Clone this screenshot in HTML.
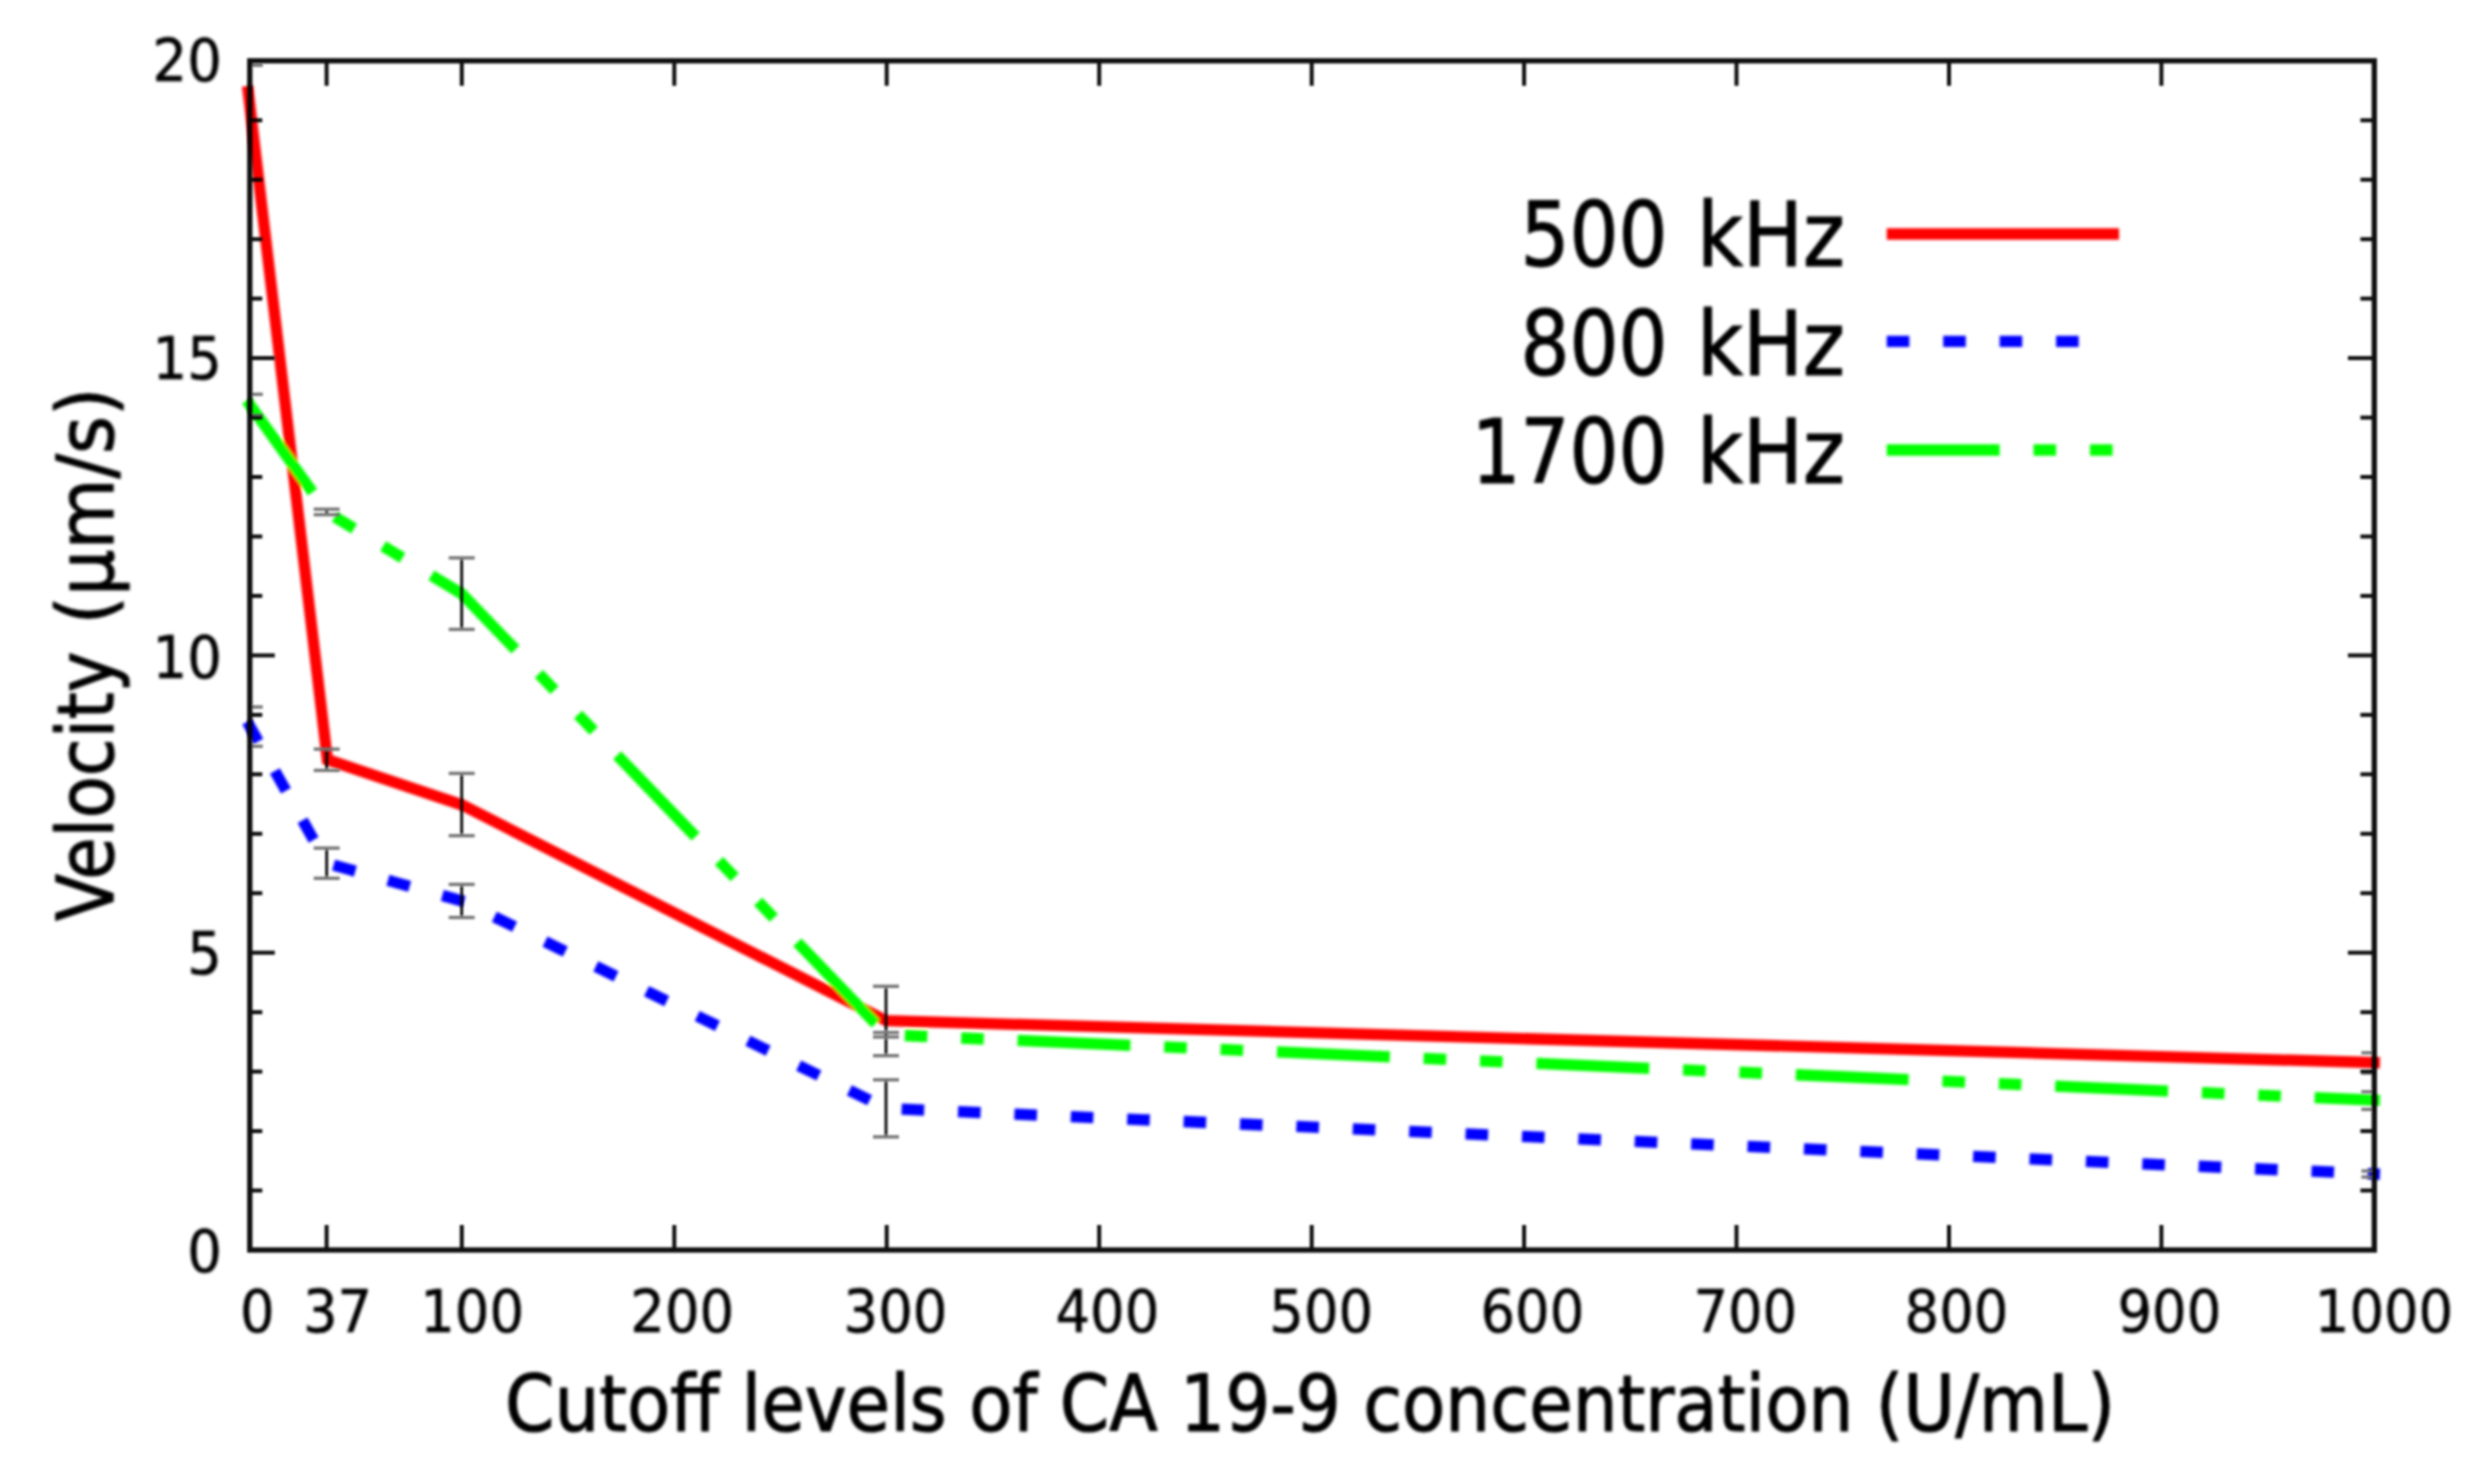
<!DOCTYPE html>
<html lang="en"><head><meta charset="utf-8"><title>Velocity vs CA 19-9 cutoff</title>
<style>html,body{margin:0;padding:0;background:#fff;}body{width:2475px;height:1480px;overflow:hidden;}svg{display:block;}text{font-family:"DejaVu Sans Condensed","DejaVu Sans","Liberation Sans",sans-serif;fill:#000;stroke:#000;stroke-width:1.1px;stroke-linejoin:round;}</style></head><body>
<svg width="2475" height="1480" viewBox="0 0 2475 1480">
<defs><filter id="b" x="-2%" y="-2%" width="104%" height="104%"><feGaussianBlur stdDeviation="1.6"/></filter><filter id="c" x="-2%" y="-2%" width="104%" height="104%"><feGaussianBlur stdDeviation="0.9"/></filter></defs>
<rect width="2475" height="1480" fill="#fff"/>
<g filter="url(#b)">
<g fill="none" stroke-width="11.29" stroke-linejoin="miter" stroke-linecap="square">
<polyline points="248.2,91.6 327.4,759.7 461.7,804.8 886.3,1020.7 2374.3,1062.6" stroke="#ff0000"/>
<polyline points="250.0,726.7 326.7,863.2 461.7,900.9 886.3,1108.4 2374.3,1174.0" stroke="#0000ff" stroke-dasharray="11.29 45.16"/>
<polyline points="250.0,405.0 326.7,512.0 461.7,593.7 886.3,1034.7 2374.3,1100.2" stroke="#00ff00" stroke-dasharray="101.61 45.16 11.29 45.16 11.29 45.16"/>
<line x1="1892.4" y1="234" x2="2113.4" y2="234" stroke="#ff0000"/>
<line x1="1892.4" y1="341.4" x2="2113.4" y2="341.4" stroke="#0000ff" stroke-dasharray="11.29 45.16"/>
<line x1="1892.4" y1="450" x2="2113.4" y2="450" stroke="#00ff00" stroke-dasharray="101.61 45.16 11.29 45.16 11.29 45.16"/>
</g>
</g><g filter="url(#c)">
<g stroke="#000" fill="none" opacity="0.95">
<line x1="326.7" y1="749.1" x2="326.7" y2="770.4" stroke-width="2.9"/>
<line x1="313.7" y1="749.1" x2="339.7" y2="749.1" stroke-width="3.4" stroke="#727272"/>
<line x1="313.7" y1="770.4" x2="339.7" y2="770.4" stroke-width="3.4" stroke="#727272"/>
<line x1="326.7" y1="509.2" x2="326.7" y2="514.7" stroke-width="2.9"/>
<line x1="313.7" y1="509.2" x2="339.7" y2="509.2" stroke-width="3.4" stroke="#727272"/>
<line x1="313.7" y1="514.7" x2="339.7" y2="514.7" stroke-width="3.4" stroke="#727272"/>
<line x1="326.7" y1="848.1" x2="326.7" y2="878.3" stroke-width="2.9"/>
<line x1="313.7" y1="848.1" x2="339.7" y2="848.1" stroke-width="3.4" stroke="#727272"/>
<line x1="313.7" y1="878.3" x2="339.7" y2="878.3" stroke-width="3.4" stroke="#727272"/>
<line x1="461.7" y1="773.4" x2="461.7" y2="835.7" stroke-width="2.9"/>
<line x1="448.7" y1="773.4" x2="474.7" y2="773.4" stroke-width="3.4" stroke="#727272"/>
<line x1="448.7" y1="835.7" x2="474.7" y2="835.7" stroke-width="3.4" stroke="#727272"/>
<line x1="461.7" y1="557.9" x2="461.7" y2="629.4" stroke-width="2.9"/>
<line x1="448.7" y1="557.9" x2="474.7" y2="557.9" stroke-width="3.4" stroke="#727272"/>
<line x1="448.7" y1="629.4" x2="474.7" y2="629.4" stroke-width="3.4" stroke="#727272"/>
<line x1="461.7" y1="884.4" x2="461.7" y2="917.5" stroke-width="2.9"/>
<line x1="448.7" y1="884.4" x2="474.7" y2="884.4" stroke-width="3.4" stroke="#727272"/>
<line x1="448.7" y1="917.5" x2="474.7" y2="917.5" stroke-width="3.4" stroke="#727272"/>
<line x1="886.0" y1="986.3" x2="886.0" y2="1055.7" stroke-width="2.9"/>
<line x1="873.0" y1="986.3" x2="899.0" y2="986.3" stroke-width="3.4" stroke="#727272"/>
<line x1="873.0" y1="1055.7" x2="899.0" y2="1055.7" stroke-width="3.4" stroke="#727272"/>
<line x1="886.0" y1="1032.5" x2="886.0" y2="1037.0" stroke-width="2.9"/>
<line x1="873.0" y1="1032.5" x2="899.0" y2="1032.5" stroke-width="3.4" stroke="#727272"/>
<line x1="873.0" y1="1037.0" x2="899.0" y2="1037.0" stroke-width="3.4" stroke="#727272"/>
<line x1="886.0" y1="1079.8" x2="886.0" y2="1136.9" stroke-width="2.9"/>
<line x1="873.0" y1="1079.8" x2="899.0" y2="1079.8" stroke-width="3.4" stroke="#727272"/>
<line x1="873.0" y1="1136.9" x2="899.0" y2="1136.9" stroke-width="3.4" stroke="#727272"/>
<line x1="249.8" y1="65.3" x2="262.8" y2="65.3" stroke-width="3.4" stroke="#727272"/>
<line x1="249.8" y1="394.3" x2="262.8" y2="394.3" stroke-width="3.4" stroke="#727272"/>
<line x1="249.8" y1="415.5" x2="262.8" y2="415.5" stroke-width="3.4" stroke="#727272"/>
<line x1="249.8" y1="707.0" x2="262.8" y2="707.0" stroke-width="3.4" stroke="#727272"/>
<line x1="249.8" y1="746.3" x2="262.8" y2="746.3" stroke-width="3.4" stroke="#727272"/>
<line x1="2361.3" y1="1052.8" x2="2374.3" y2="1052.8" stroke-width="3.4" stroke="#727272"/>
<line x1="2361.3" y1="1073.0" x2="2374.3" y2="1073.0" stroke-width="3.4" stroke="#727272"/>
<line x1="2361.3" y1="1091.8" x2="2374.3" y2="1091.8" stroke-width="3.4" stroke="#727272"/>
<line x1="2361.3" y1="1109.4" x2="2374.3" y2="1109.4" stroke-width="3.4" stroke="#727272"/>
<line x1="2361.3" y1="1171.0" x2="2374.3" y2="1171.0" stroke-width="3.4" stroke="#727272"/>
<line x1="2361.3" y1="1177.0" x2="2374.3" y2="1177.0" stroke-width="3.4" stroke="#727272"/>
</g>
<g stroke="#000" fill="none" opacity="0.94">
<rect x="249.8" y="60.8" width="2124.5" height="1189.2" stroke-width="5.3"/>
<g stroke-width="4.0">
<line x1="326.6" y1="1250.0" x2="326.6" y2="1225.0"/>
<line x1="326.6" y1="60.8" x2="326.6" y2="85.8"/>
<line x1="461.8" y1="1250.0" x2="461.8" y2="1225.0"/>
<line x1="461.8" y1="60.8" x2="461.8" y2="85.8"/>
<line x1="674.3" y1="1250.0" x2="674.3" y2="1225.0"/>
<line x1="674.3" y1="60.8" x2="674.3" y2="85.8"/>
<line x1="886.7" y1="1250.0" x2="886.7" y2="1225.0"/>
<line x1="886.7" y1="60.8" x2="886.7" y2="85.8"/>
<line x1="1099.2" y1="1250.0" x2="1099.2" y2="1225.0"/>
<line x1="1099.2" y1="60.8" x2="1099.2" y2="85.8"/>
<line x1="1311.7" y1="1250.0" x2="1311.7" y2="1225.0"/>
<line x1="1311.7" y1="60.8" x2="1311.7" y2="85.8"/>
<line x1="1524.1" y1="1250.0" x2="1524.1" y2="1225.0"/>
<line x1="1524.1" y1="60.8" x2="1524.1" y2="85.8"/>
<line x1="1736.5" y1="1250.0" x2="1736.5" y2="1225.0"/>
<line x1="1736.5" y1="60.8" x2="1736.5" y2="85.8"/>
<line x1="1949.0" y1="1250.0" x2="1949.0" y2="1225.0"/>
<line x1="1949.0" y1="60.8" x2="1949.0" y2="85.8"/>
<line x1="2161.4" y1="1250.0" x2="2161.4" y2="1225.0"/>
<line x1="2161.4" y1="60.8" x2="2161.4" y2="85.8"/>
<line x1="249.8" y1="1190.5" x2="262.3" y2="1190.5"/>
<line x1="2374.3" y1="1190.5" x2="2360.4" y2="1190.5"/>
<line x1="249.8" y1="1131.1" x2="262.3" y2="1131.1"/>
<line x1="2374.3" y1="1131.1" x2="2360.4" y2="1131.1"/>
<line x1="249.8" y1="1071.6" x2="262.3" y2="1071.6"/>
<line x1="2374.3" y1="1071.6" x2="2360.4" y2="1071.6"/>
<line x1="249.8" y1="1012.2" x2="262.3" y2="1012.2"/>
<line x1="2374.3" y1="1012.2" x2="2360.4" y2="1012.2"/>
<line x1="249.8" y1="952.7" x2="274.8" y2="952.7"/>
<line x1="2374.3" y1="952.7" x2="2347.9" y2="952.7"/>
<line x1="249.8" y1="893.2" x2="262.3" y2="893.2"/>
<line x1="2374.3" y1="893.2" x2="2360.4" y2="893.2"/>
<line x1="249.8" y1="833.8" x2="262.3" y2="833.8"/>
<line x1="2374.3" y1="833.8" x2="2360.4" y2="833.8"/>
<line x1="249.8" y1="774.3" x2="262.3" y2="774.3"/>
<line x1="2374.3" y1="774.3" x2="2360.4" y2="774.3"/>
<line x1="249.8" y1="714.9" x2="262.3" y2="714.9"/>
<line x1="2374.3" y1="714.9" x2="2360.4" y2="714.9"/>
<line x1="249.8" y1="655.4" x2="274.8" y2="655.4"/>
<line x1="2374.3" y1="655.4" x2="2347.9" y2="655.4"/>
<line x1="249.8" y1="595.9" x2="262.3" y2="595.9"/>
<line x1="2374.3" y1="595.9" x2="2360.4" y2="595.9"/>
<line x1="249.8" y1="536.5" x2="262.3" y2="536.5"/>
<line x1="2374.3" y1="536.5" x2="2360.4" y2="536.5"/>
<line x1="249.8" y1="477.0" x2="262.3" y2="477.0"/>
<line x1="2374.3" y1="477.0" x2="2360.4" y2="477.0"/>
<line x1="249.8" y1="417.6" x2="262.3" y2="417.6"/>
<line x1="2374.3" y1="417.6" x2="2360.4" y2="417.6"/>
<line x1="249.8" y1="358.1" x2="274.8" y2="358.1"/>
<line x1="2374.3" y1="358.1" x2="2347.9" y2="358.1"/>
<line x1="249.8" y1="298.6" x2="262.3" y2="298.6"/>
<line x1="2374.3" y1="298.6" x2="2360.4" y2="298.6"/>
<line x1="249.8" y1="239.2" x2="262.3" y2="239.2"/>
<line x1="2374.3" y1="239.2" x2="2360.4" y2="239.2"/>
<line x1="249.8" y1="179.7" x2="262.3" y2="179.7"/>
<line x1="2374.3" y1="179.7" x2="2360.4" y2="179.7"/>
<line x1="249.8" y1="120.3" x2="262.3" y2="120.3"/>
<line x1="2374.3" y1="120.3" x2="2360.4" y2="120.3"/>
</g></g>
</g><g filter="url(#b)">
<text x="221.8" y="80.6" font-size="58.5" text-anchor="end" textLength="69.2" lengthAdjust="spacingAndGlyphs" style="stroke-width:0.5px">20</text>
<text x="221.8" y="378.9" font-size="58.5" text-anchor="end" textLength="69.2" lengthAdjust="spacingAndGlyphs" style="stroke-width:0.5px">15</text>
<text x="221.8" y="677.8" font-size="58.5" text-anchor="end" textLength="69.2" lengthAdjust="spacingAndGlyphs" style="stroke-width:0.5px">10</text>
<text x="221.8" y="974.0" font-size="58.5" text-anchor="end" textLength="34.6" lengthAdjust="spacingAndGlyphs" style="stroke-width:0.5px">5</text>
<text x="221.8" y="1271.7" font-size="58.5" text-anchor="end" textLength="34.6" lengthAdjust="spacingAndGlyphs" style="stroke-width:0.5px">0</text>
<text x="257.3" y="1332.0" font-size="58.5" text-anchor="middle" textLength="34.6" lengthAdjust="spacingAndGlyphs" style="stroke-width:0.5px">0</text>
<text x="337.6" y="1332.0" font-size="58.5" text-anchor="middle" textLength="69.2" lengthAdjust="spacingAndGlyphs" style="stroke-width:0.5px">37</text>
<text x="472.1" y="1332.0" font-size="58.5" text-anchor="middle" textLength="103.8" lengthAdjust="spacingAndGlyphs" style="stroke-width:0.5px">100</text>
<text x="682.2" y="1332.0" font-size="58.5" text-anchor="middle" textLength="103.8" lengthAdjust="spacingAndGlyphs" style="stroke-width:0.5px">200</text>
<text x="895.5" y="1332.0" font-size="58.5" text-anchor="middle" textLength="103.8" lengthAdjust="spacingAndGlyphs" style="stroke-width:0.5px">300</text>
<text x="1107.4" y="1332.0" font-size="58.5" text-anchor="middle" textLength="103.8" lengthAdjust="spacingAndGlyphs" style="stroke-width:0.5px">400</text>
<text x="1321.2" y="1332.0" font-size="58.5" text-anchor="middle" textLength="103.8" lengthAdjust="spacingAndGlyphs" style="stroke-width:0.5px">500</text>
<text x="1532.4" y="1332.0" font-size="58.5" text-anchor="middle" textLength="103.8" lengthAdjust="spacingAndGlyphs" style="stroke-width:0.5px">600</text>
<text x="1745.3" y="1332.0" font-size="58.5" text-anchor="middle" textLength="103.8" lengthAdjust="spacingAndGlyphs" style="stroke-width:0.5px">700</text>
<text x="1956.5" y="1332.0" font-size="58.5" text-anchor="middle" textLength="103.8" lengthAdjust="spacingAndGlyphs" style="stroke-width:0.5px">800</text>
<text x="2169.4" y="1332.0" font-size="58.5" text-anchor="middle" textLength="103.8" lengthAdjust="spacingAndGlyphs" style="stroke-width:0.5px">900</text>
<text x="2384.0" y="1332.0" font-size="58.5" text-anchor="middle" textLength="138.4" lengthAdjust="spacingAndGlyphs" style="stroke-width:0.5px">1000</text>
<text y="266.0" font-size="89.5"><tspan x="1667.5" text-anchor="end" textLength="147.0" lengthAdjust="spacingAndGlyphs">500</tspan><tspan x="1671.6" text-anchor="start" textLength="173.3" lengthAdjust="spacingAndGlyphs"> kHz</tspan></text>
<text y="374.8" font-size="89.5"><tspan x="1667.5" text-anchor="end" textLength="147.0" lengthAdjust="spacingAndGlyphs">800</tspan><tspan x="1671.6" text-anchor="start" textLength="173.3" lengthAdjust="spacingAndGlyphs"> kHz</tspan></text>
<text y="483.3" font-size="89.5"><tspan x="1667.5" text-anchor="end" textLength="196.0" lengthAdjust="spacingAndGlyphs">1700</tspan><tspan x="1671.6" text-anchor="start" textLength="173.3" lengthAdjust="spacingAndGlyphs"> kHz</tspan></text>
<text x="505.0" y="1430.5" font-size="79.0" text-anchor="start" textLength="1610.0" lengthAdjust="spacingAndGlyphs">Cutoff levels of CA 19-9 concentration (U/mL)</text>
<text transform="translate(113.2,921) rotate(-90)" font-size="79.0"><tspan x="0" y="0" textLength="269.5" lengthAdjust="spacingAndGlyphs">Velocity</tspan><tspan> </tspan><tspan x="296.5" y="0" textLength="237.1" lengthAdjust="spacingAndGlyphs">(µm/s)</tspan></text>
</g>
</svg></body></html>
